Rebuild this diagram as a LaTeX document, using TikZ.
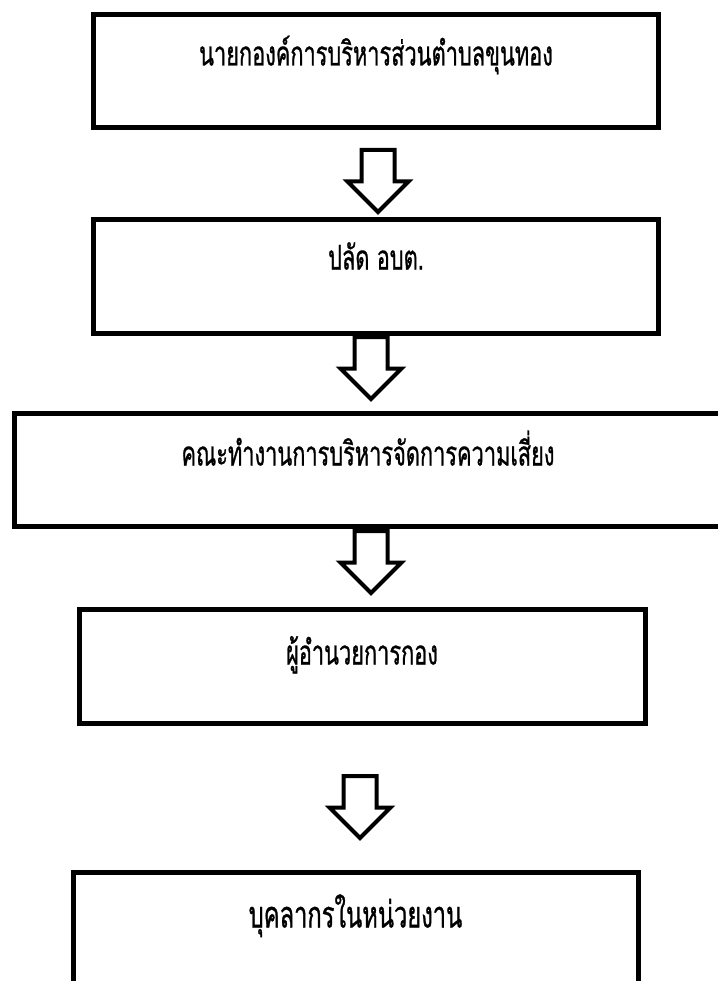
\documentclass[tikz,border=0pt]{standalone}
\usepackage{fontspec}
\newfontfamily\thaifont[Script=Thai,FakeStretch=0.64,FakeBold=0.8]{Loma}
\usetikzlibrary{shapes.arrows}

\begin{document}
\begin{tikzpicture}[x=1pt, y=-1pt,
    box/.style={draw, line width=5pt, rectangle, inner sep=0pt, anchor=north,
        font=\thaifont\fontsize{34}{40}\selectfont},
    downarrow/.style={draw, line width=4pt, single arrow, shape border rotate=270,
        inner sep=14.5pt, single arrow head extend=14pt,
        minimum height=62pt, anchor=tail}]
    \useasboundingbox (0,0) rectangle (717,981);

    % chain of command, top to bottom
    \node[box, minimum width=565pt, text height=50.5pt, text depth=62.5pt]
        (mayor) at (376,12.5) {นายกองค์การบริหารส่วนตำบลขุนทอง};
    \node[box, minimum width=565pt, text height=50pt, text depth=63.5pt]
        (clerk) at (376,217) {ปลัด อบต.};
    \node[box, minimum width=708pt, text height=52pt, text depth=61pt]
        (riskteam) at (368,411) {คณะทำงานการบริหารจัดการความเสี่ยง};
    \node[box, minimum width=566pt, text height=55pt, text depth=58.5pt]
        (director) at (362,607) {ผู้อำนวยการกอง};
    \node[box, minimum width=565pt, text height=55pt, text depth=75pt,
        font=\thaifont\fontsize{37}{44}\selectfont]
        (staff) at (355.5,870) {บุคลากรในหน่วยงาน};

    % hollow arrows between the levels
    \node[downarrow] (a1) at (378,148) {};
    \node[downarrow] (a2) at (371,335) {};
    \node[downarrow] (a3) at (371,529) {};
    \node[downarrow] (a4) at (360,774) {};
\end{tikzpicture}
\end{document}
